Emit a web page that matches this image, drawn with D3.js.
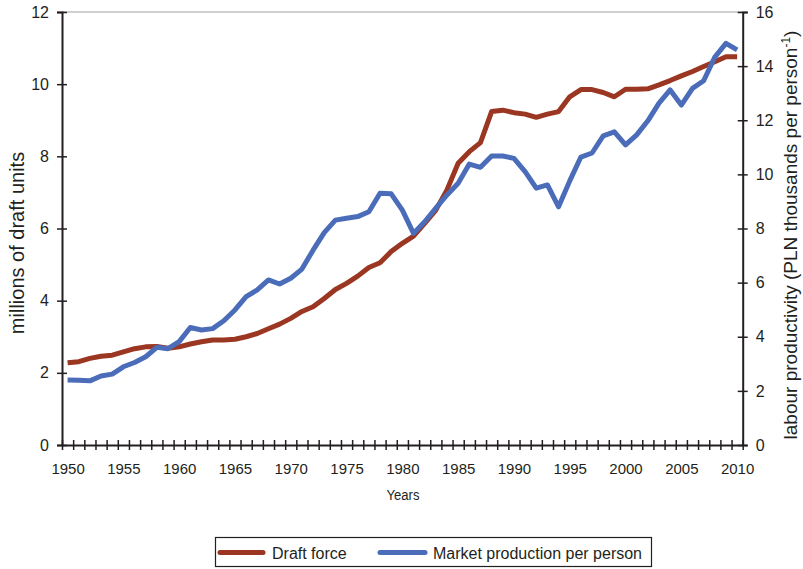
<!DOCTYPE html>
<html><head><meta charset="utf-8">
<script src="https://cdn.jsdelivr.net/npm/d3@7"></script>
<style>
body{margin:0;background:#fff;}
svg text{font-family:"Liberation Sans",Arial,Helvetica,sans-serif;fill:#231f20;}
</style></head>
<body><svg id="chart" width="803" height="569"></svg>
<script>
const years = [1950,1951,1952,1953,1954,1955,1956,1957,1958,1959,1960,1961,1962,1963,1964,1965,1966,1967,1968,1969,1970,1971,1972,1973,1974,1975,1976,1977,1978,1979,1980,1981,1982,1983,1984,1985,1986,1987,1988,1989,1990,1991,1992,1993,1994,1995,1996,1997,1998,1999,2000,2001,2002,2003,2004,2005,2006,2007,2008,2009,2010];
const draftForce = [2.28,2.31,2.40,2.46,2.49,2.58,2.67,2.72,2.73,2.68,2.72,2.80,2.86,2.91,2.91,2.93,3.00,3.09,3.22,3.35,3.51,3.70,3.83,4.06,4.31,4.48,4.68,4.92,5.05,5.36,5.59,5.79,6.14,6.51,7.07,7.81,8.13,8.38,9.24,9.28,9.21,9.17,9.08,9.17,9.24,9.65,9.85,9.85,9.77,9.65,9.86,9.86,9.87,9.98,10.10,10.23,10.35,10.49,10.62,10.76,10.76];
const marketProduction = [2.40,2.39,2.37,2.55,2.62,2.89,3.05,3.26,3.61,3.56,3.82,4.34,4.25,4.30,4.59,4.99,5.48,5.73,6.10,5.95,6.16,6.50,7.20,7.85,8.31,8.38,8.44,8.62,9.30,9.28,8.68,7.82,8.25,8.75,9.24,9.67,10.38,10.26,10.68,10.68,10.59,10.10,9.49,9.61,8.80,9.76,10.64,10.79,11.42,11.57,11.09,11.46,11.98,12.63,13.12,12.56,13.18,13.46,14.33,14.84,14.60];
const yearLabels = [1950,1955,1960,1965,1970,1975,1980,1985,1990,1995,2000,2005,2010];
const leftTicks = [0,2,4,6,8,10,12];
const rightTicks = [0,2,4,6,8,10,12,14,16];
const seriesNames = ["Draft force","Market production per person"];
const colors = ["#9a3621","#4a6cb9"];

const svg = d3.select("#chart");
const L = 62, R = 742.7, T = 12, B = 445;

const x = d3.scaleBand().domain(years).range([L, R]).padding(0);
const xc = d => x(d) + x.bandwidth()/2;
const yL = d3.scaleLinear().domain([0,12]).range([B, T]);
const yR = d3.scaleLinear().domain([0,16]).range([B, T]);

// top grey line
svg.append("line").attr("x1",L).attr("x2",R).attr("y1",yL(12)).attr("y2",yL(12))
  .attr("stroke","#a0a0a0").attr("stroke-width",1);

// x axis boundaries ticks
const bounds = years.map(d => x(d)).concat([R]);
const xTicks = svg.append("g").attr("transform",`translate(0,${B})`)
  .call(d3.axisBottom(d3.scaleLinear().domain([L,R]).range([L,R])).tickValues(bounds).tickFormat("").tickSizeOuter(0));
xTicks.select(".domain").attr("stroke","#231f20").attr("stroke-width",2);
xTicks.selectAll(".tick line").attr("y1",-5).attr("y2",5).attr("stroke","#231f20").attr("stroke-width",1.5);

// x labels
const xLab = svg.append("g").attr("transform",`translate(0,${B})`)
  .call(d3.axisBottom(d3.scalePoint().domain(years).range([xc(1950), xc(2010)])).tickValues(yearLabels).tickSize(0).tickPadding(18));
xLab.select(".domain").remove();
xLab.selectAll("text").attr("font-size",15).attr("font-family","Liberation Sans, Arial, sans-serif").attr("fill","#231f20");

// left axis
const la = svg.append("g").attr("transform",`translate(${L},0)`)
  .call(d3.axisLeft(yL).tickValues(leftTicks).tickSizeOuter(0).tickSize(5).tickPadding(8));
la.select(".domain").attr("stroke","#231f20").attr("stroke-width",2);
la.selectAll(".tick line").attr("x1",-5).attr("x2",5).attr("stroke","#231f20").attr("stroke-width",1.5);
la.selectAll("text").attr("font-size",16).attr("font-family","Liberation Sans, Arial, sans-serif").attr("fill","#231f20");

// right axis
const ra = svg.append("g").attr("transform",`translate(${R},0)`)
  .call(d3.axisRight(yR).tickValues(rightTicks).tickSizeOuter(0).tickSize(5).tickPadding(8));
ra.select(".domain").attr("stroke","#231f20").attr("stroke-width",2);
ra.selectAll(".tick line").attr("x1",-5).attr("x2",5).attr("stroke","#231f20").attr("stroke-width",1.5);
ra.selectAll("text").attr("font-size",16).attr("font-family","Liberation Sans, Arial, sans-serif").attr("fill","#231f20");

// axis titles
svg.append("text").attr("x",403).attr("y",500).attr("text-anchor","middle")
  .attr("font-size",14).attr("textLength",33).attr("lengthAdjust","spacingAndGlyphs").text("Years");
svg.append("text").attr("transform","translate(24,243) rotate(-90)").attr("text-anchor","middle")
  .attr("font-size",20).text("millions of draft units");
const rt = svg.append("text").attr("transform","translate(797,235) rotate(-90)").attr("text-anchor","middle")
  .attr("font-size",19);
rt.append("tspan").text("labour productivity (PLN thousands per person");
rt.append("tspan").attr("font-size",12).attr("dy",-7).text("-1");
rt.append("tspan").attr("dy",7).text(")");

// lines
const lineL = d3.line().x((d,i) => xc(years[i])).y(d => yL(d));
const lineR = d3.line().x((d,i) => xc(years[i])).y(d => yR(d));
svg.append("path").datum(draftForce).attr("d",lineL).attr("fill","none")
  .attr("stroke",colors[0]).attr("stroke-width",5).attr("stroke-linejoin","round");
svg.append("path").datum(marketProduction).attr("d",lineR).attr("fill","none")
  .attr("stroke",colors[1]).attr("stroke-width",5).attr("stroke-linejoin","round");

// legend
const lg = svg.append("g");
lg.append("rect").attr("x",215.5).attr("y",537.5).attr("width",436).attr("height",29)
  .attr("fill","#fff").attr("stroke","#231f20").attr("stroke-width",1.2);
const legX = [[220,263,272],[380,425,433]];
seriesNames.forEach((n,i) => {
  lg.append("line").attr("x1",legX[i][0]).attr("x2",legX[i][1]).attr("y1",552.5).attr("y2",552.5)
    .attr("stroke",colors[i]).attr("stroke-width",5).attr("stroke-linecap","round");
  lg.append("text").attr("x",legX[i][2]).attr("y",558.5).attr("font-size",16).text(n);
});
</script></body></html>
